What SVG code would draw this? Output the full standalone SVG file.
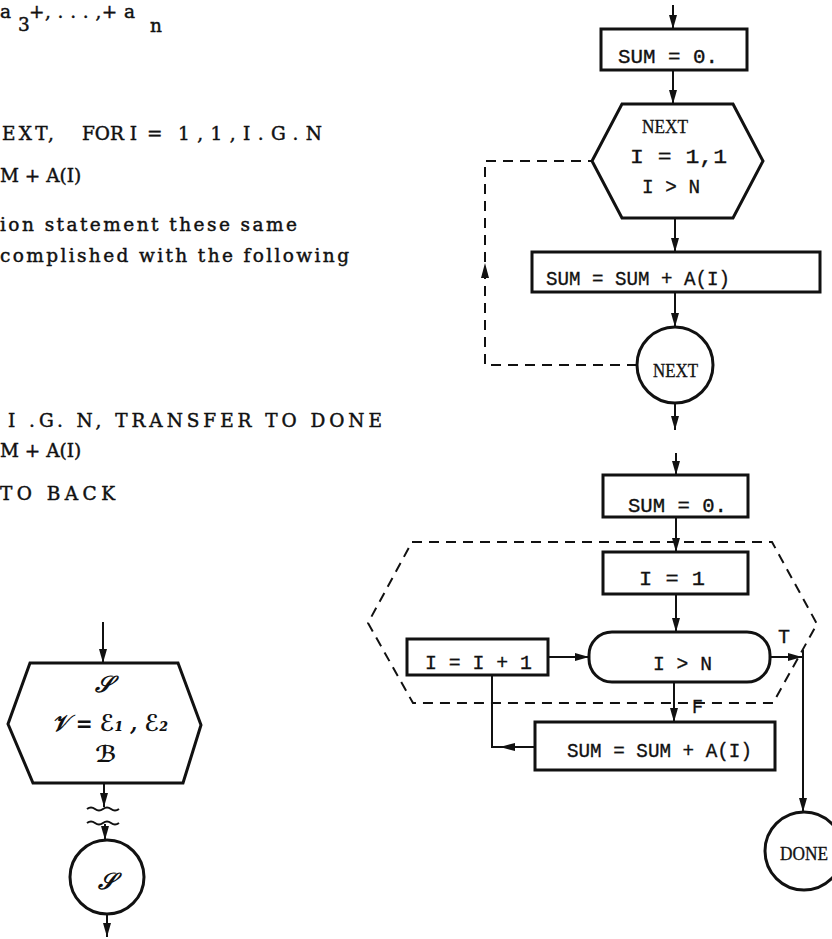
<svg xmlns="http://www.w3.org/2000/svg" width="832" height="939" viewBox="0 0 832 939">
<style>
  .prose { font-family: "DejaVu Serif", "Liberation Serif", serif; font-size: 18.5px; fill: #111; stroke: #111; stroke-width: 0.45; }
  .mono { font-family: "Liberation Mono", monospace; font-size: 21px; fill: #111; stroke: #111; stroke-width: 0.35; }
  .lab { font-family: "Liberation Serif", serif; font-size: 18px; fill: #111; stroke: #111; stroke-width: 0.3; }
  .script { font-family: "DejaVu Serif", "DejaVu Sans", serif; font-style: italic; font-weight: bold; font-size: 23px; fill: #111; }
  .box { fill: none; stroke: #111; stroke-width: 3; }
  .conn { fill: none; stroke: #111; stroke-width: 2; }
  .dash { fill: none; stroke: #111; stroke-width: 2; stroke-dasharray: 10 7; }
  .head { fill: #111; }
</style>
<defs>
  <marker id="ah" markerUnits="userSpaceOnUse" markerWidth="14" markerHeight="8" refX="14" refY="4" orient="auto">
    <path d="M0,0 L14,4 L0,8 z" fill="#111"/>
  </marker>
</defs>

<g id="prose">
  <text class="prose" x="0" y="18">a</text>
  <text class="prose" x="18" y="31">3</text>
  <text class="prose" x="29" y="18" textLength="106" lengthAdjust="spacing">+, . . . ,+ a</text>
  <text class="prose" x="150" y="32">n</text>
  <text class="prose" x="2" y="140" textLength="52" lengthAdjust="spacing">EXT,</text>
  <text class="prose" x="82" y="140">FOR I</text>
  <text class="prose" x="147" y="140">=</text>
  <text class="prose" x="178" y="140" textLength="144" lengthAdjust="spacing">1,1,I.G.N</text>
  <text class="prose" x="0" y="182">M + A(I)</text>
  <text class="prose" x="0" y="231" textLength="297" lengthAdjust="spacing">ion statement these same</text>
  <text class="prose" x="0" y="262" textLength="349" lengthAdjust="spacing">complished with the following</text>
  <text class="prose" x="8" y="427" textLength="374" lengthAdjust="spacing">I .G. N, TRANSFER TO DONE</text>
  <text class="prose" x="0" y="457">M + A(I)</text>
  <text class="prose" x="0" y="500" textLength="115" lengthAdjust="spacing">TO BACK</text>
</g>

<g id="connectors">
  <!-- top flowchart -->
  <line class="conn" x1="673" y1="5" x2="673" y2="29" marker-end="url(#ah)"/>
  <line class="conn" x1="673" y1="70" x2="673" y2="104" marker-end="url(#ah)"/>
  <line class="conn" x1="675" y1="218" x2="675" y2="252" marker-end="url(#ah)"/>
  <line class="conn" x1="675" y1="292" x2="675" y2="327" marker-end="url(#ah)"/>
  <line class="conn" x1="675" y1="403" x2="675" y2="430" marker-end="url(#ah)"/>
  <path class="dash" d="M637,365 L485,365 L485,161 L592,161"/>
  <path class="head" d="M485,263 L489,278 L481,278 z"/>
  <!-- bottom-right flowchart -->
  <line class="conn" x1="676" y1="453" x2="676" y2="475" marker-end="url(#ah)"/>
  <line class="conn" x1="676" y1="517" x2="676" y2="552" marker-end="url(#ah)"/>
  <line class="conn" x1="676" y1="594" x2="676" y2="632" marker-end="url(#ah)"/>
  <line class="conn" x1="548" y1="657" x2="589" y2="657" marker-end="url(#ah)"/>
  <line class="conn" x1="770" y1="657" x2="802" y2="657" marker-end="url(#ah)"/>
  <line class="conn" x1="803" y1="650" x2="803" y2="812" marker-end="url(#ah)"/>
  <line class="conn" x1="674" y1="682" x2="674" y2="722" marker-end="url(#ah)"/>
  <path class="conn" d="M535,747 L492,747 L492,675"/>
  <path class="head" d="M500,747 L515,743 L515,751 z"/>
  <path class="dash" d="M412,542 L772,542 L817,624 L773,703 L413,703 L368,623 Z"/>
  <!-- left flowchart -->
  <line class="conn" x1="103" y1="622" x2="103" y2="663" marker-end="url(#ah)"/>
  <line class="conn" x1="104" y1="783" x2="104" y2="807" marker-end="url(#ah)"/>
  <path class="conn" d="M87,809 q4,-3 8,0 t8,0 t8,0 t8,0"/>
  <path class="conn" d="M87,823 q4,-3 8,0 t8,0 t8,0 t8,0"/>
  <line class="conn" x1="105" y1="824" x2="105" y2="840" marker-end="url(#ah)"/>
  <line class="conn" x1="107" y1="914" x2="107" y2="937" marker-end="url(#ah)"/>
</g>

<g id="n-sum0-top">
  <rect class="box" x="601" y="29" width="146" height="41"/>
  <text class="mono" x="618" y="63" textLength="100" lengthAdjust="spacingAndGlyphs">SUM = 0.</text>
</g>
<g id="n-iter-top">
  <path class="box" d="M622,104 L733,104 L763,161 L733,218 L622,218 L592,161 Z"/>
  <text class="lab" x="642" y="133" textLength="46" lengthAdjust="spacingAndGlyphs">NEXT</text>
  <text class="mono" x="630" y="163" textLength="97" lengthAdjust="spacingAndGlyphs">I = 1,1</text>
  <text class="mono" x="642" y="193" textLength="58" lengthAdjust="spacingAndGlyphs">I &gt; N</text>
</g>
<g id="n-sum-top">
  <rect class="box" x="532" y="252" width="288" height="40"/>
  <text class="mono" x="546" y="285" textLength="184" lengthAdjust="spacingAndGlyphs">SUM = SUM + A(I)</text>
</g>
<g id="n-next">
  <circle class="box" cx="675" cy="365" r="38"/>
  <text class="lab" x="653" y="377" textLength="45" lengthAdjust="spacingAndGlyphs">NEXT</text>
</g>

<g id="n-sum0-bot">
  <rect class="box" x="603" y="475" width="145" height="42"/>
  <text class="mono" x="628" y="512" textLength="99" lengthAdjust="spacingAndGlyphs">SUM = 0.</text>
</g>
<g id="n-i1">
  <rect class="box" x="603" y="552" width="145" height="42"/>
  <text class="mono" x="639" y="585" textLength="66" lengthAdjust="spacingAndGlyphs">I = 1</text>
</g>
<g id="n-test">
  <rect class="box" x="589" y="632" width="181" height="50" rx="23"/>
  <text class="mono" x="653" y="670" textLength="59" lengthAdjust="spacingAndGlyphs">I &gt; N</text>
</g>
<g id="n-incr">
  <rect class="box" x="407" y="639" width="141" height="36"/>
  <text class="mono" x="425" y="669" textLength="107" lengthAdjust="spacingAndGlyphs">I = I + 1</text>
</g>
<g id="n-sum-bot">
  <rect class="box" x="535" y="722" width="240" height="48"/>
  <text class="mono" x="567" y="757" textLength="185" lengthAdjust="spacingAndGlyphs">SUM = SUM + A(I)</text>
</g>
<g id="n-done">
  <circle class="box" cx="804" cy="851" r="39"/>
  <text class="lab" x="780" y="860" textLength="48" lengthAdjust="spacingAndGlyphs">DONE</text>
</g>
<g id="labels-tf">
  <text class="mono" x="778" y="643" textLength="12" lengthAdjust="spacingAndGlyphs">T</text>
  <text class="mono" x="692" y="713" textLength="11" lengthAdjust="spacingAndGlyphs">F</text>
</g>

<g id="n-iter-general">
  <path class="box" d="M30,663 L178,663 L201,725 L183,783 L33,783 L8,724 Z"/>
  <text class="script" x="104" y="692" text-anchor="middle">𝒮</text>
  <text class="script" x="52" y="731" textLength="116" lengthAdjust="spacingAndGlyphs">𝒱 = ℰ₁ , ℰ₂</text>
  <text class="script" x="106" y="762" text-anchor="middle">ℬ</text>
</g>
<g id="n-s-connector">
  <circle class="box" cx="107" cy="877" r="37"/>
  <text class="script" x="107" y="889" text-anchor="middle">𝒮</text>
</g>
</svg>
